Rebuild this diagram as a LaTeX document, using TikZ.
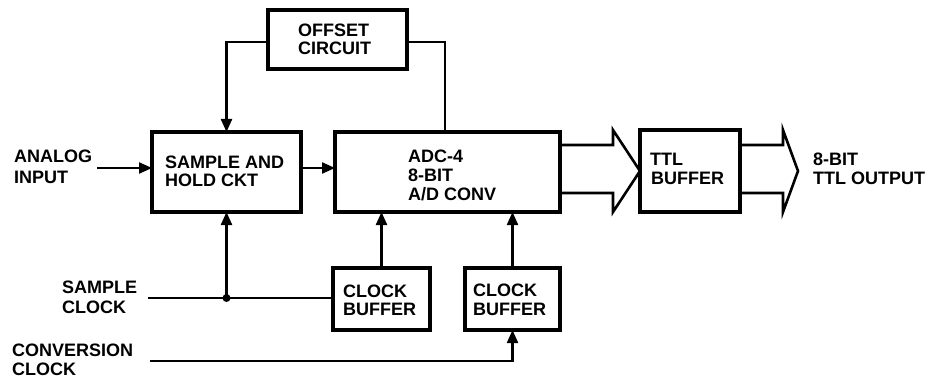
\documentclass[tikz,border=0pt]{standalone}
\usepackage{fontspec}
\setmainfont{Liberation Sans}
\usetikzlibrary{arrows.meta}
\begin{document}
\begin{tikzpicture}[x=1pt,y=-1pt,
  blk/.style={draw, line width=3.6pt, inner sep=0pt, outer sep=0pt},
  lbl/.style={anchor=base west, inner sep=0pt, font=\fontsize{18}{20}\selectfont\bfseries},
  wire/.style={line width=2.2pt},
  arr/.style={wire, -{Triangle[length=13pt,width=11pt]}},
  fat/.style={line width=2.6pt, line join=miter}]
\useasboundingbox (0,0) rectangle (937,377);
% boxes
\node[blk, minimum width=139pt, minimum height=59pt] (off) at (337.5,39.5) {};
\node[blk, minimum width=149pt, minimum height=80pt] (sh) at (226.5,172) {};
\node[blk, minimum width=225pt, minimum height=80pt] (adc) at (447.5,172) {};
\node[blk, minimum width=100pt, minimum height=82pt] (ttl) at (690,171) {};
\node[blk, minimum width=97pt, minimum height=62pt] (cb1) at (381.5,299) {};
\node[blk, minimum width=95pt, minimum height=62pt] (cb2) at (512.5,299) {};
% labels
\node[lbl] (tOff1) at (298,37) {OFFSET};
\node[lbl] (tOff2) at (298,55) {CIRCUIT};
\node[lbl] (tAn1) at (14,163) {ANALOG};
\node[lbl] (tAn2) at (14,183) {INPUT};
\node[lbl] (tSh1) at (165,168) {SAMPLE AND};
\node[lbl] (tSh2) at (165,186) {HOLD CKT};
\node[lbl] (tAdc1) at (408,163) {ADC-4};
\node[lbl] (tAdc2) at (408,182) {8-BIT};
\node[lbl] (tAdc3) at (408,200) {A/D CONV};
\node[lbl] (tTtl1) at (650,165) {TTL};
\node[lbl] (tTtl2) at (651,184) {BUFFER};
\node[lbl] (tOut1) at (813,165) {8-BIT};
\node[lbl] (tOut2) at (813,184) {TTL OUTPUT};
\node[lbl] (tSc1) at (62,293) {SAMPLE};
\node[lbl] (tSc2) at (62,313) {CLOCK};
\node[lbl] (tCb11) at (343,297) {CLOCK};
\node[lbl] (tCb12) at (343,315) {BUFFER};
\node[lbl] (tCb21) at (473,296) {CLOCK};
\node[lbl] (tCb22) at (473,315) {BUFFER};
\node[lbl] (tCc1) at (12,356) {CONVERSION};
\node[lbl] (tCc2) at (12,375) {CLOCK};
% coordinates
\coordinate (ain) at (97,168);
\coordinate (sc) at (148,298);
\coordinate (cc) at (150,361);
\coordinate (j) at (sh.south |- sc);
\coordinate (tip2) at (798,171);
% connectors
\draw[arr] (ain) -- (ain -| sh.west);
\draw[arr] ([yshift=4pt]sh.east) -- ([yshift=4pt]adc.west);
\draw[arr] ([yshift=-2.5pt]off.west) -| (sh.north);
\draw[wire] ([yshift=-2.5pt]off.east) -| ([xshift=-2.5pt]adc.north);
\draw[wire] (sc) -- (sc -| cb1.west);
\draw[arr] (j) -- (sh.south);
\fill (j) circle (4pt);
\draw[arr] (cb1.north) -- (cb1.north |- adc.south);
\draw[arr] (cb2.north) -- (cb2.north |- adc.south);
\draw[arr] (cc) -| (cb2.south);
% bus arrows
\draw[fat] (adc.east |- 0,145) -- (613,145) -- (613,130) -- (ttl.west) -- (613,212) -- (613,193) -- (adc.east |- 0,193);
\draw[fat] (ttl.east |- 0,145) -- (783,145) -- (783,130) -- (tip2) -- (783,212) -- (783,193) -- (ttl.east |- 0,193);
\end{tikzpicture}
\end{document}
